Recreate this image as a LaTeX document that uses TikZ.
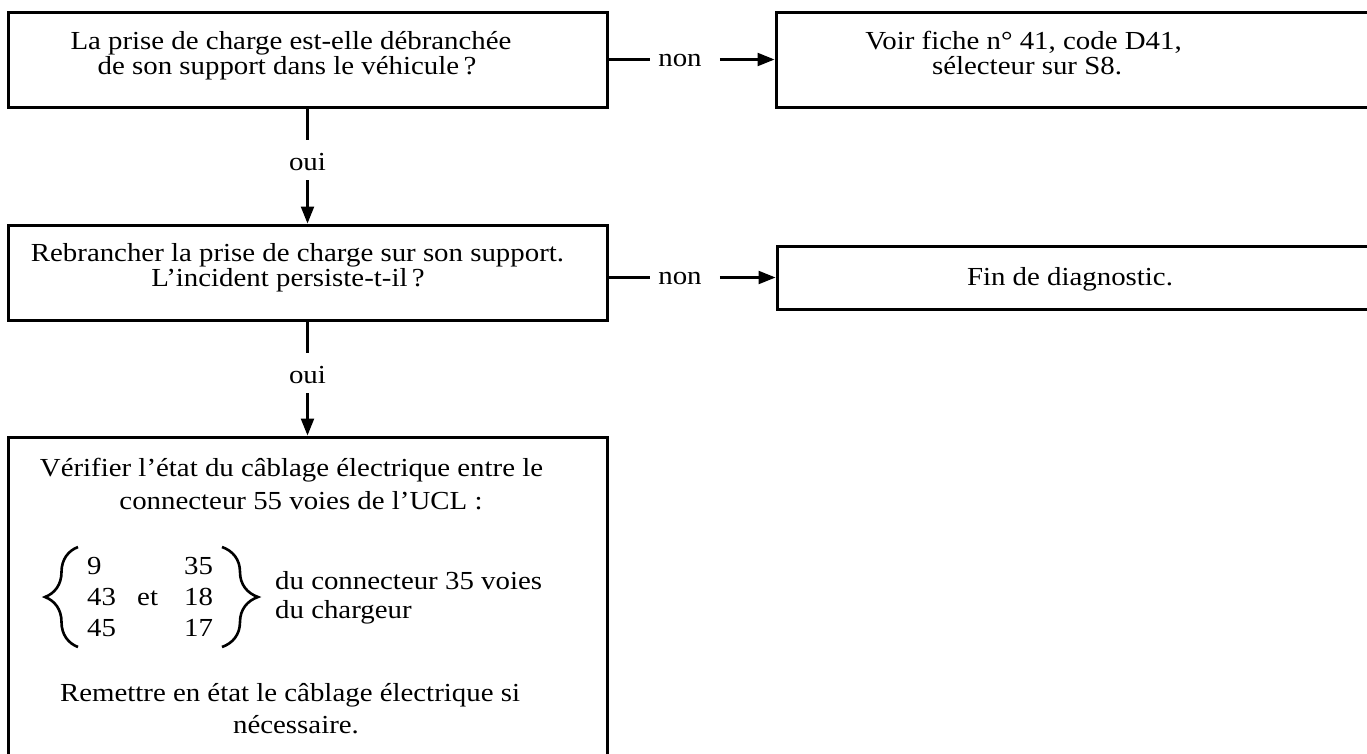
\documentclass[tikz,border=0pt]{standalone}
\usepackage{fontspec}
\setmainfont{Liberation Serif}[FakeStretch=1.11]
\usetikzlibrary{arrows.meta,decorations.pathreplacing}
\begin{document}
\begin{tikzpicture}[x=1pt,y=-1pt,
  font=\fontsize{26pt}{30pt}\selectfont,
  box/.style={draw, line width=3pt, minimum width=599pt, inner sep=0pt},
  txt/.style={anchor=base, inner sep=0pt},
  ouilbl/.style={anchor=base, inner sep=0pt, text height=30pt, text depth=10pt},
  nonlbl/.style={anchor=base, inner sep=0pt, text height=13pt, text depth=0pt},
  conn/.style={line width=2.3pt},
  arr/.style={line width=2.3pt, -{Triangle[length=17pt,width=13pt]}},
  brc/.style={line width=2.6pt, decorate, decoration={brace, amplitude=#1}}
]
\useasboundingbox (0,0) rectangle (1367,753);
\clip (0,0) rectangle (1367,753);

% boxes
\node[box, minimum height=95pt] (b1) at (307.5,59.5) {};
\node[box, minimum width=624pt, minimum height=95pt] (r1) at (1088,59.5) {};
\node[box, minimum height=95pt] (b2) at (307.5,272.5) {};
\node[box, minimum width=623pt, minimum height=63pt] (r2) at (1088.5,277.5) {};
\node[box, minimum height=353pt] (b3) at (307.5,613.5) {};

% texts
\node[txt] (t1a) at (291,49.5) {La prise de charge est-elle débranchée};
\node[txt] (t1b) at (287,74.5) {de son support dans le véhicule\,?};
\node[txt] (r1a) at (1023.5,49.5) {Voir fiche n° 41, code D41,};
\node[txt] (r1b) at (1027,74.5) {sélecteur sur S8.};
\node[txt] (t2a) at (297.5,261.5) {Rebrancher la prise de charge sur son support.};
\node[txt] (t2b) at (288,286) {L’incident persiste-t-il\,?};
\node[txt] (r2a) at (1070,285) {Fin de diagnostic.};
\node[txt] (t3a) at (291.5,476) {Vérifier l’état du câblage électrique entre le};
\node[txt] (t3b) at (301,509) {connecteur 55 voies de l’UCL :};
\node[txt, anchor=base west] (n9) at (87,574) {9};
\node[txt, anchor=base west] (n43) at (87,605) {43};
\node[txt, anchor=base west] (n45) at (87,636) {45};
\node[txt, anchor=base west] (et) at (137,605) {et};
\node[txt, anchor=base west] (n35) at (184,574) {35};
\node[txt, anchor=base west] (n18) at (184,605) {18};
\node[txt, anchor=base west] (n17) at (184,636) {17};
\node[txt, anchor=base west] (dc1) at (275,589) {du connecteur 35 voies};
\node[txt, anchor=base west] (dc2) at (275,618) {du chargeur};
\node[txt] (t3c) at (290,701) {Remettre en état le câblage électrique si};
\node[txt] (t3d) at (296,733) {nécessaire.};

% braces
\coordinate (lbB) at (78,647);
\coordinate (lbT) at (78,547);
\draw[brc=33pt] (lbB) -- (lbT);
\coordinate (rbT) at (222,547);
\coordinate (rbB) at (222,647);
\draw[brc=36pt] (rbT) -- (rbB);

% labels
\node[ouilbl] (o1) at (307.5,170) {oui};
\node[ouilbl] (o2) at (307.5,383) {oui};
\node[nonlbl] (nl1) at (680,66) {non};
\node[nonlbl] (nl2) at (680,284) {non};

% connectors
\draw[conn] (b1.south) -- (o1.north);
\draw[arr] (o1.south) -- (b2.north);
\draw[conn] (b2.south) -- (o2.north);
\draw[arr] (o2.south) -- (b3.north);
\draw[conn, shorten >=8pt] (b1.east) -- (nl1.west);
\draw[arr, shorten <=18pt] (nl1.east) -- (r1.west);
\draw[conn, shorten >=8pt] (b2.east |- r2.west) -- (nl2.west);
\draw[arr, shorten <=18pt] (nl2.east) -- (r2.west);
\end{tikzpicture}
\end{document}
